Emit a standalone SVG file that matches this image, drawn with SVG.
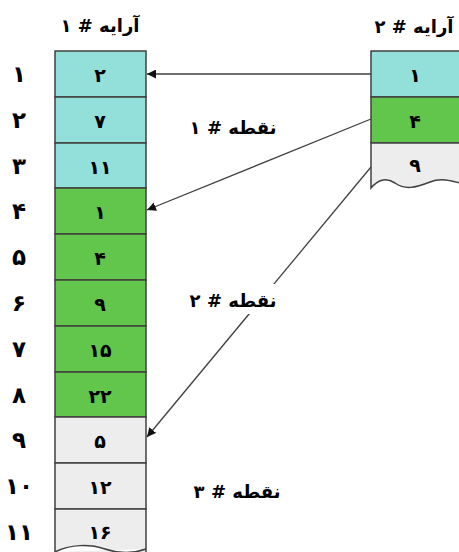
<svg xmlns="http://www.w3.org/2000/svg" width="459" height="552" viewBox="0 0 459 552">
<style>
text{font-family:"DejaVu Sans","Noto Sans",sans-serif;font-weight:bold;fill:#000}
.cell{stroke:#404040;stroke-width:1.5}
.c{fill:#93E0DA}
.g{fill:#62C54C}
.w{fill:#EDEDED}
.v{font-size:19px;text-anchor:middle}
.idx{font-size:23px;text-anchor:middle}
.lbl{font-size:18px;text-anchor:middle}
.conn{stroke:#404040;stroke-width:1.3;fill:none}
</style>
<defs>
<marker id="ah" viewBox="0 0 10 10" refX="10" refY="5" markerWidth="9" markerHeight="9" markerUnits="userSpaceOnUse" orient="auto">
<path d="M0,0 L10,5 L0,10 z" fill="#111"/>
</marker>
</defs>
<rect width="459" height="552" fill="#fff"/>

<g id="array1-title"><text class="lbl" x="100" y="32" direction="rtl">آرایه # ۱</text></g>
<g id="array2-title"><text class="lbl" x="414" y="33" direction="rtl">آرایه # ۲</text></g>

<g id="array1">
<rect class="cell c" x="55" y="51" width="91" height="46"/>
<rect class="cell c" x="55" y="97" width="91" height="46"/>
<rect class="cell c" x="55" y="143" width="91" height="45"/>
<rect class="cell g" x="55" y="188" width="91" height="46"/>
<rect class="cell g" x="55" y="234" width="91" height="46"/>
<rect class="cell g" x="55" y="280" width="91" height="46"/>
<rect class="cell g" x="55" y="326" width="91" height="46"/>
<rect class="cell g" x="55" y="372" width="91" height="45"/>
<rect class="cell w" x="55" y="417" width="91" height="46"/>
<rect class="cell w" x="55" y="463" width="91" height="46"/>
<path class="cell w" d="M55,509 H146 V556 H55 Z"/>
<path d="M55,552 C70,544 90,544 105,549 C120,554 135,553 146,549" fill="#fff" stroke="#404040" stroke-width="1.5"/>
<rect x="55.8" y="552.5" width="89.5" height="5" fill="#fff"/>
<text class="v" x="100" y="82">۲</text>
<text class="v" x="100" y="128">۷</text>
<text class="v" x="100" y="174">۱۱</text>
<text class="v" x="100" y="219">۱</text>
<text class="v" x="100" y="265">۴</text>
<text class="v" x="100" y="311">۹</text>
<text class="v" x="100" y="357">۱۵</text>
<text class="v" x="100" y="403">۲۲</text>
<text class="v" x="100" y="448">۵</text>
<text class="v" x="100" y="494">۱۲</text>
<text class="v" x="100" y="539">۱۶</text>
</g>

<g id="indices">
<text class="idx" x="19" y="82">۱</text>
<text class="idx" x="19" y="128">۲</text>
<text class="idx" x="19" y="174">۳</text>
<text class="idx" x="19" y="219">۴</text>
<text class="idx" x="19" y="265">۵</text>
<text class="idx" x="19" y="311">۶</text>
<text class="idx" x="19" y="357">۷</text>
<text class="idx" x="19" y="403">۸</text>
<text class="idx" x="19" y="448">۹</text>
<text class="idx" x="19" y="494">۱۰</text>
<text class="idx" x="19" y="540">۱۱</text>
</g>

<g id="array2">
<rect class="cell c" x="371" y="51" width="92" height="46"/>
<rect class="cell g" x="371" y="97" width="92" height="46"/>
<path class="cell w" d="M371,143 H463 V184 C450,180 440,178 430,182 C415,188 405,190 395,183 C385,177 378,180 371,188 Z"/>
<text class="v" x="415" y="82">۱</text>
<text class="v" x="415" y="128">۴</text>
<text class="v" x="415" y="172">۹</text>
</g>

<g id="connectors">
<line class="conn" x1="371" y1="74" x2="147" y2="74" marker-end="url(#ah)"/>
<line class="conn" x1="371" y1="119" x2="147" y2="210" marker-end="url(#ah)"/>
<line class="conn" x1="371" y1="167" x2="147" y2="437" marker-end="url(#ah)"/>
</g>

<g id="point1"><text class="lbl" x="233" y="134" direction="rtl">نقطه # ۱</text></g>
<g id="point2">
<rect x="190" y="284" width="90" height="30" fill="#fff"/>
<text class="lbl" x="233" y="307" direction="rtl">نقطه # ۲</text>
</g>
<g id="point3"><text class="lbl" x="237" y="498" direction="rtl">نقطه # ۳</text></g>
</svg>
